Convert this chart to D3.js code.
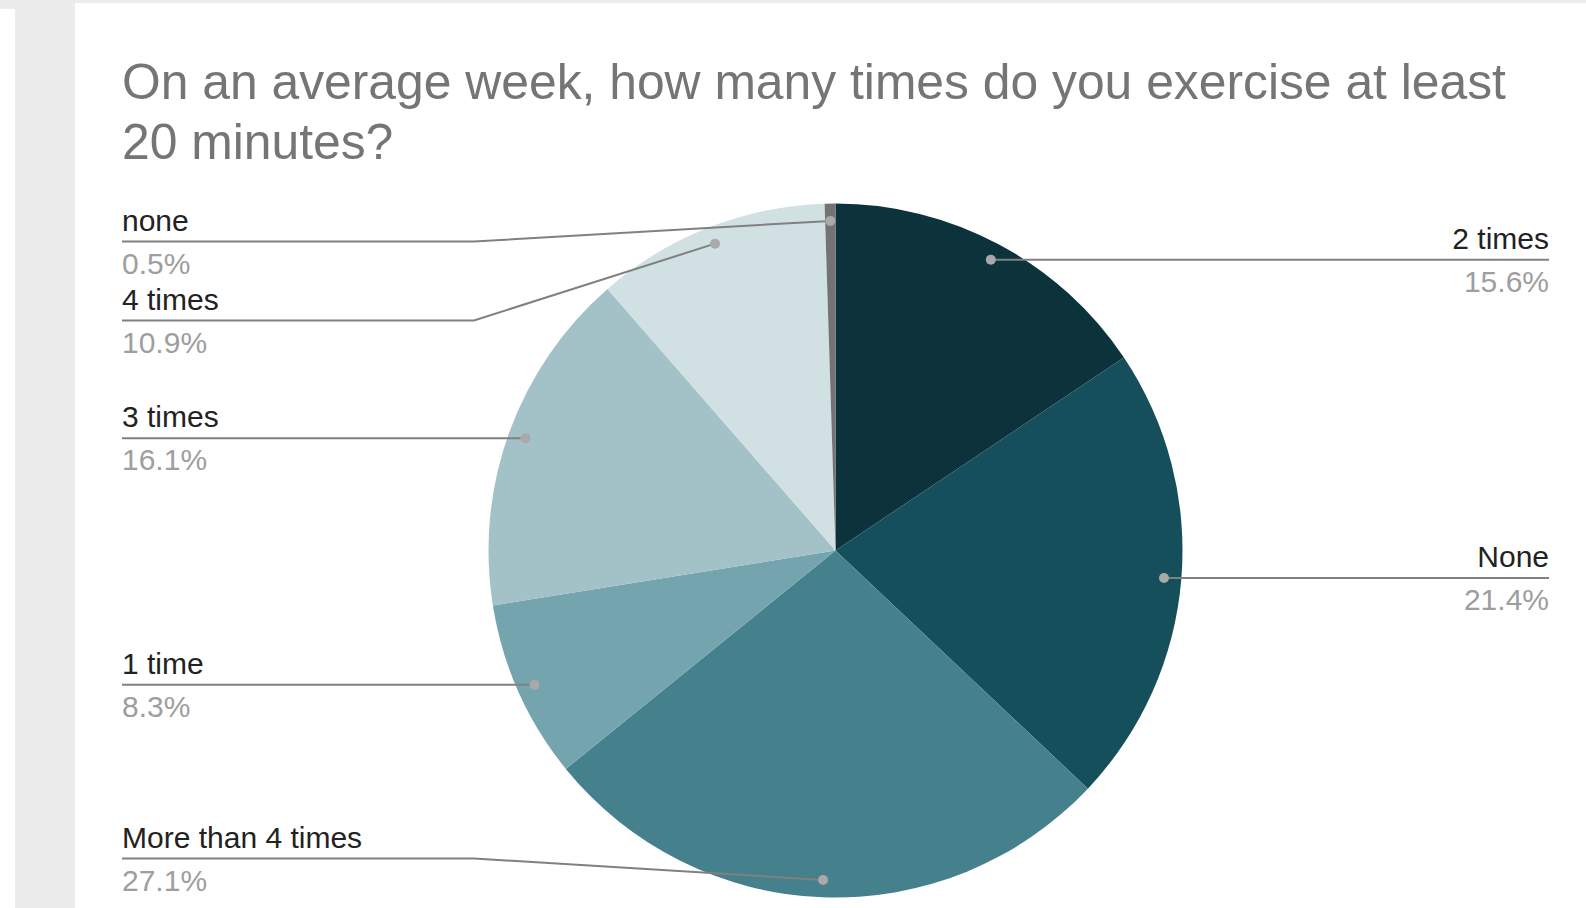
<!DOCTYPE html>
<html>
<head>
<meta charset="utf-8">
<script src="https://cdn.jsdelivr.net/npm/d3@7"></script>
<style>
  html, body { margin: 0; padding: 0; background: #ececec; }
  svg { display: block; }
  text { font-family: "Liberation Sans", Arial, sans-serif; }
</style>
</head>
<body>
<svg id="chart" width="1586" height="908"></svg>
<script>
// ---- data ----
const categories = ["2 times", "None", "More than 4 times", "1 time", "3 times", "4 times", "none"];
const values = [15.6, 21.4, 27.1, 8.3, 16.1, 10.9, 0.5];
const sliceColors = ["#0c333c", "#154f5c", "#45808d", "#74a4ae", "#a3c2c7", "#d0e0e3", "#737373"];
const titleLines = ["On an average week, how many times do you exercise at least", "20 minutes?"];

const W = 1586, H = 908;
const svg = d3.select("#chart");

// background panels
svg.append("rect").attr("x", 0).attr("y", 9).attr("width", 15).attr("height", H - 9).attr("fill", "#ffffff");
svg.append("rect").attr("x", 75).attr("y", 3).attr("width", W - 75).attr("height", H - 3).attr("fill", "#ffffff");

// title
svg.append("g").selectAll("text").data(titleLines).join("text")
  .attr("x", 122).attr("y", (d, i) => 99 + i * 60)
  .attr("fill", "#757575").attr("font-size", 49.8).text(d => d);

// pie
const cx = 835.5, cy = 550.5, R = 347;
const data = categories.map((c, i) => ({ cat: c, value: values[i], color: sliceColors[i] }));
const pie = d3.pie().value(d => d.value).sort(null);
const arcs = pie(data);
const arc = d3.arc().innerRadius(0).outerRadius(R);
const dotArc = d3.arc().innerRadius(R * 0.95).outerRadius(R * 0.95);

const g = svg.append("g").attr("transform", `translate(${cx},${cy})`);
g.selectAll("path").data(arcs).join("path")
  .attr("d", arc).attr("fill", d => d.data.color);

// label layout
const items = arcs.map(a => {
  const [x, y] = dotArc.centroid(a);
  return { a, dx: cx + x, dy: cy + y, side: (x < 0 ? "left" : "right") };
});
const minY = 241.5, maxY = 858.5, gap = 79;
["left", "right"].forEach(side => {
  const list = items.filter(d => d.side === side).sort((p, q) => p.dy - q.dy);
  list.forEach((d, i) => {
    let y = Math.max(d.dy, minY);
    if (i > 0) y = Math.max(y, list[i - 1].ly + gap);
    d.ly = y;
  });
  for (let i = list.length - 1; i >= 0; i--) {
    let y = Math.min(list[i].ly, maxY);
    if (i < list.length - 1) y = Math.min(y, list[i + 1].ly - gap);
    list[i].ly = y;
  }
});

const leftX = 122, rightX = 1549, bendL = 474, bendR = 2 * cx - 474;
const line = d3.line();
const lab = svg.append("g");
items.forEach(d => {
  const isL = d.side === "left";
  const tx = isL ? leftX : rightX;
  const bx = isL ? bendL : bendR;
  lab.append("path")
    .attr("d", line([[tx, d.ly], [bx, d.ly], [d.dx, d.dy]]))
    .attr("fill", "none").attr("stroke", "#808080").attr("stroke-width", 2);
  lab.append("circle").attr("cx", d.dx).attr("cy", d.dy).attr("r", 5).attr("fill", "#a9a9a9");
  lab.append("text").attr("x", tx).attr("y", d.ly - 11)
    .attr("text-anchor", isL ? "start" : "end")
    .attr("font-size", 30).attr("fill", "#222222").text(d.a.data.cat);
  lab.append("text").attr("x", tx).attr("y", d.ly + 32)
    .attr("text-anchor", isL ? "start" : "end")
    .attr("font-size", 30).attr("fill", "#9e9e9e").text(d.a.data.value.toFixed(1) + "%");
});
</script>
</body>
</html>
